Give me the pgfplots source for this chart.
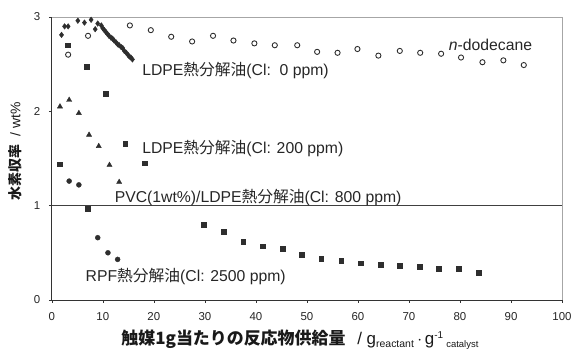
\documentclass[border=0pt]{standalone}
\usepackage{pgfplots}
\pgfplotsset{compat=1.18}
\usepackage{fontspec}
\setmainfont{Liberation Sans}
\newfontfamily\jp{Noto Sans CJK JP}
\definecolor{mk}{gray}{0.18}
\tikzset{annot/.style={anchor=base west, text=black!85, inner sep=0pt, font=\fontsize{15.8}{17}\selectfont}}
\begin{document}
\begin{tikzpicture}
\useasboundingbox (-52pt,-50pt) rectangle (524pt,301pt);
\begin{axis}[
  scale only axis, width=512pt, height=284pt,
  xmin=0, xmax=100, ymin=0, ymax=3,
  xtick={0,10,...,100}, ytick={0,1,2,3},
  axis x line*=bottom, axis y line*=left,
  axis line style={-, black!80, line width=0.7pt},
  tick align=outside, major tick length=3pt,
  tick style={black!80, line width=0.6pt},
  tick label style={font=\fontsize{11.5}{12}\selectfont, text=black!85},
  /pgf/number format/assume math mode=true,
  xticklabel style={yshift=-6pt},
  yticklabel style={xshift=-5pt},
  clip=false,
]
\draw[black!35, line width=0.7pt] (rel axis cs:0,1) -- (rel axis cs:1,1) -- (rel axis cs:1,0);
\draw[black!75, line width=0.6pt] (axis cs:0,1) -- (axis cs:100,1);
% n-dodecane
\addplot[only marks, mark=o, mark size=2.6pt, color=mk, mark options={line width=0.9pt}] coordinates {
(3.2,2.60)(7.1,2.80)(15.3,2.91)(19.4,2.86)(23.4,2.79)(27.5,2.74)(31.6,2.80)(35.6,2.75)(39.7,2.72)(43.7,2.70)(48.1,2.70)(52.0,2.63)(56.0,2.62)(59.9,2.66)(64.0,2.59)(68.2,2.64)(72.2,2.62)(76.3,2.61)(80.2,2.57)(84.4,2.52)(88.5,2.54)(92.5,2.49)};
% LDPE 0 ppm
\addplot[only marks, mark=diamond*, mark size=2.8pt, color=mk] coordinates {
(1.9,2.81)(2.5,2.90)(3.2,2.90)(5.1,2.96)(6.4,2.94)(7.7,2.97)(8.5,2.87)(9.0,2.93)(9.7,2.91)(10.0,2.88)(10.3,2.86)(10.6,2.84)(10.9,2.82)(11.2,2.80)(11.6,2.78)(11.9,2.77)(12.2,2.75)(12.6,2.73)(12.9,2.71)(13.2,2.70)(13.6,2.68)(13.9,2.67)(14.2,2.64)(14.6,2.62)(14.9,2.60)(15.2,2.58)(15.5,2.57)(15.8,2.55)};
% LDPE 200 ppm
\addplot[only marks, mark=square*, mark size=2.4pt, color=mk] coordinates {
(3.1,2.70)(6.9,2.47)(10.6,2.19)(14.4,1.66)(18.2,1.45)};
% PVC 800 ppm
\addplot[only marks, mark=triangle*, mark size=3pt, color=mk] coordinates {
(1.6,2.05)(3.4,2.12)(5.3,1.98)(7.3,1.75)(9.2,1.63)(11.3,1.43)(13.2,1.25)};
% RPF 2500 ppm
\addplot[only marks, mark=*, mark size=2.5pt, color=mk] coordinates {
(3.4,1.26)(5.3,1.22)(9.0,0.66)(11.0,0.50)(12.9,0.43)};
\addplot[only marks, mark=square*, mark size=2.4pt, color=mk] coordinates {
(1.5,1.44)(7.1,0.97)(29.8,0.80)(33.7,0.72)(37.5,0.62)(41.4,0.57)(45.3,0.54)(49.0,0.48)(52.8,0.44)(56.7,0.42)(60.6,0.39)(64.5,0.37)(68.2,0.36)(72.1,0.35)(75.9,0.33)(79.7,0.33)(83.6,0.29)};
% annotations
\node[annot] at (axis cs:17.7,2.376) {LDPE{\jp 熱分解油}(Cl:\ \ 0 ppm)};
\node[annot] at (axis cs:17.7,1.552) {LDPE{\jp 熱分解油}(Cl: 200 ppm)};
\node[annot] at (axis cs:12.3,1.03) {PVC(1wt\%)/LDPE{\jp 熱分解油}(Cl: 800 ppm)};
\node[annot] at (axis cs:6.6,0.197) {RPF{\jp 熱分解油}(Cl: 2500 ppm)};
\node[annot] at (axis cs:77.8,2.643) {\textit{n}-dodecane};
\node[anchor=base west, text=black!90, inner sep=0pt, font=\fontsize{17}{19}\selectfont] at (rel axis cs:0.136,-0.158)
  {{\jp\bfseries 触媒1g当たりの反応物供給量}\hspace{0.7em}/ g\textsubscript{\fontsize{10.5}{11}\selectfont reactant}\,$\cdot$\,g\textsuperscript{\fontsize{10}{11}\selectfont -1}\textsubscript{\fontsize{9.5}{10}\selectfont\ catalyst}};
\node[rotate=90, anchor=center, text=black!90, inner sep=0pt, font=\fontsize{14}{15}\selectfont] at (rel axis cs:-0.072,0.525)
  {{\jp\bfseries 水素収率}\ \ / wt\%};
\end{axis}
\end{tikzpicture}
\end{document}
